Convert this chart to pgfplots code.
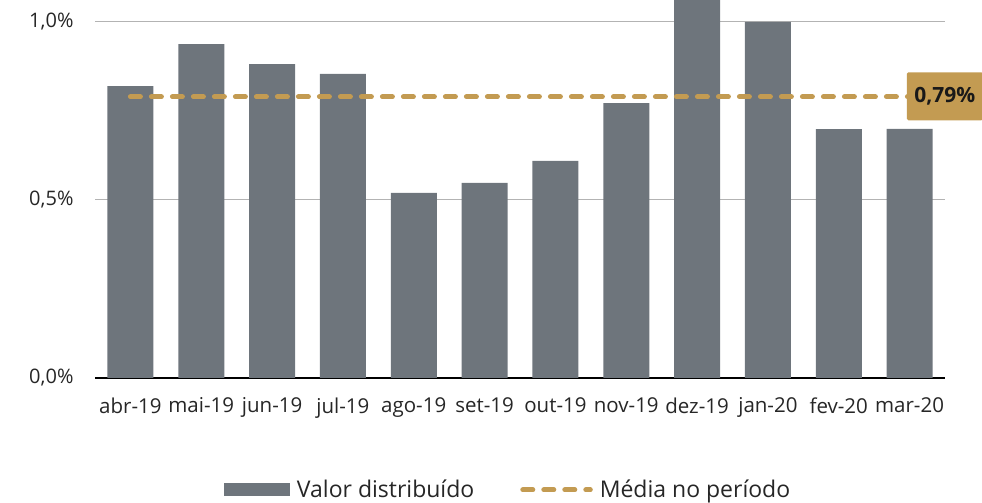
\documentclass[border=0pt]{standalone}
\usepackage{pgfplots}
\pgfplotsset{compat=1.18}
\usepackage{fontspec}
\setmainfont{Open Sans}
\definecolor{barc}{HTML}{6E757C}
\definecolor{gold}{HTML}{C39B52}
\definecolor{gridc}{HTML}{B3B3B3}
\begin{document}
\begin{tikzpicture}[x=1pt,y=1pt]
\useasboundingbox (0,0) rectangle (982,503);
\begin{axis}[
  at={(95pt,125pt)}, anchor=south west,
  scale only axis, width=850pt, height=378pt,
  xmin=-0.5, xmax=11.5, ymin=0, ymax=1.0618,
  clip=false,
  axis x line*=bottom, axis y line*=left,
  x axis line style={black, line width=2pt},
  y axis line style={draw=none},
  major tick length=0pt,
  ymajorgrids, grid style={gridc, line width=1pt},
  xtick={0,...,11},
  xticklabels={abr-19,mai-19,jun-19,jul-19,ago-19,set-19,out-19,nov-19,dez-19,jan-20,fev-20,mar-20},
  ytick={0,0.5,1},
  yticklabels={{0,0\%},{0,5\%},{1,0\%}},
  tick label style={font=\fontsize{20.5}{23}\selectfont, text=black!85},
  xticklabel style={yshift=-16pt},
  yticklabel style={xshift=-18pt, font=\fontsize{20}{22}\selectfont},
  legend style={at={(0.486,-0.296)}, anchor=center, draw=none, fill=none,
    legend columns=2, font=\fontsize{23}{26}\selectfont, text=black!85,
    /tikz/every odd column/.append style={column sep=5pt},
    /tikz/every even column/.append style={column sep=44pt}},
  legend cell align=left,
]
\addplot[ybar, bar width=46pt, fill=barc, draw=none,
  legend image code/.code={\fill[barc] (0pt,-6.5pt) rectangle (66pt,6.5pt);}]
  coordinates {(0,0.820) (1,0.938) (2,0.882) (3,0.854) (4,0.520) (5,0.548)
               (6,0.610) (7,0.772) (8,1.14) (9,1.000) (10,0.699) (11,0.700)};
\addlegendentry{Valor distribuído}
\addplot[gold, line width=5pt, dash pattern=on 10pt off 11pt, line cap=round,
  legend image code/.code={\draw[gold, line width=5pt, dash pattern=on 10pt off 11pt, line cap=round] (2.5pt,0pt) -- (70pt,0pt);}]
  coordinates {(0,0.79) (11,0.79)};
\addlegendentry{Média no período}
\node[fill=gold, anchor=west, xshift=-3pt, yshift=0.5pt, minimum height=48pt, minimum width=76pt,
  inner sep=2pt, rounded corners=1.5pt, font=\bfseries\fontsize{21}{23}\selectfont, text=black!90]
  at (axis cs:11,0.79) {0,79\%};
\end{axis}
\end{tikzpicture}
\end{document}
